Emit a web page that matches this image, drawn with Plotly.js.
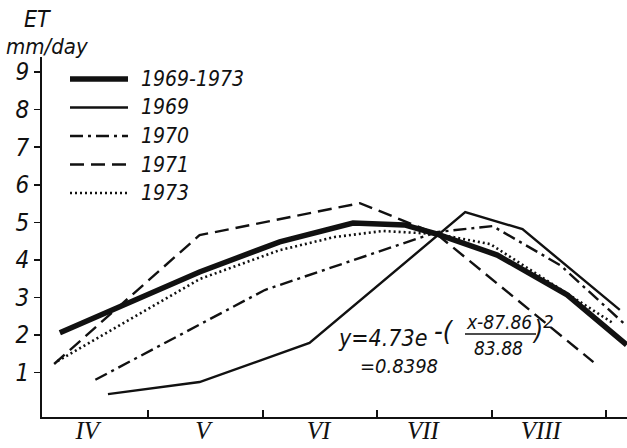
<!DOCTYPE html>
<html>
<head>
<meta charset="utf-8">
<script src="https://cdn.plot.ly/plotly-3.0.1.min.js"></script>
<style>
  html, body { margin: 0; padding: 0; background: #fff; }
  #chart { width: 627px; height: 448px; }
</style>
</head>
<body>
<div id="chart"></div>
<script>
// x is measured in months: 5.0 = 1 May, 6.0 = 1 June, ...
const monthLabels = ['IV', 'V', 'VI', 'VII', 'VIII'];
const monthLabelPos = [4.47, 5.48, 6.49, 7.40, 8.43];
const monthBounds = [5, 6, 7, 8, 9];

const meanX = [4.23, 5.45, 6.15, 6.79, 7.24, 7.52, 8.05, 8.66, 9.18];
const meanY = [2.06, 3.68, 4.48, 4.98, 4.93, 4.69, 4.13, 3.07, 1.74];

const et1969X = [4.65, 5.45, 6.41, 7.52, 7.77, 8.27, 9.12];
const et1969Y = [0.43, 0.75, 1.79, 4.64, 5.27, 4.82, 2.67];

const et1970X = [4.54, 6.02, 7.52, 8.01, 8.60, 9.17];
const et1970Y = [0.81, 3.20, 4.74, 4.90, 3.86, 2.27];

const et1971X = [4.18, 5.45, 6.85, 7.52, 8.89];
const et1971Y = [1.23, 4.66, 5.51, 4.69, 1.28];

const et1973X = [4.21, 5.45, 6.15, 6.63, 7.05, 7.52, 7.99, 9.06];
const et1973Y = [1.31, 3.49, 4.26, 4.61, 4.77, 4.69, 4.42, 2.32];

const seriesNames = ['1969-1973', '1969', '1970', '1971', '1973'];

const W = 627, H = 448, ML = 42, MR = 0, MT = 57, MB = 31;
const PW = W - ML - MR, PH = H - MT - MB;
const px = v => (v - ML) / PW;
const py = v => (H - MB - v) / PH;

const ink = '#111';
const fam = '"DejaVu Sans Condensed", "DejaVu Sans", sans-serif';
const it = (size) => ({family: fam, size: size, color: ink, style: 'italic'});

const lineStyles = [
  {color: ink, width: 5.5},
  {color: ink, width: 2.4},
  {color: ink, width: 2.4, dash: '13px,5px,3px,5px'},
  {color: ink, width: 2.4, dash: '14px,7px'},
  {color: ink, width: 2.6, dash: '2px,3px'}
];
const seriesX = [meanX, et1969X, et1970X, et1971X, et1973X];
const seriesY = [meanY, et1969Y, et1970Y, et1971Y, et1973Y];

const traces = seriesNames.map((n, i) => ({
  x: seriesX[i], y: seriesY[i], name: n, mode: 'lines',
  line: lineStyles[i], showlegend: false
}));

const annotations = [
  {text: 'ET', x: px(37), y: py(19), font: it(23)},
  {text: 'mm/day', x: px(47), y: py(46), font: it(22)},
  {text: 'y=4.73e', x: px(336), y: py(338), xanchor: 'left', font: it(23)},
  {text: '-(', x: px(432), y: py(330), xanchor: 'left', font: it(27)},
  {text: 'x-87.86', x: px(499), y: py(322), font: it(19)},
  {text: '83.88', x: px(498), y: py(348), font: it(19)},
  {text: ')<sup>2</sup>', x: px(530), y: py(328), xanchor: 'left', font: it(26)},
  {text: '=0.8398', x: px(358), y: py(366), xanchor: 'left', font: it(20)}
];

const shapes = [
  {type: 'line', xref: 'paper', yref: 'paper', x0: px(465), x1: px(536),
   y0: py(334), y1: py(334), line: {color: ink, width: 1.6}}
];

// hand-made legend (long line samples as in the original figure)
const legendRow0 = 79, legendRowGap = 28.5;
seriesNames.forEach((n, i) => {
  const yy = py(legendRow0 + i * legendRowGap);
  shapes.push({type: 'line', xref: 'paper', yref: 'paper',
    x0: px(70), x1: px(128), y0: yy, y1: yy, line: lineStyles[i]});
  annotations.push({text: n, x: px(139), y: yy, xanchor: 'left', font: it(21)});
});

const annots = annotations.map(a => Object.assign({xref: 'paper', yref: 'paper',
  showarrow: false, xanchor: 'center', yanchor: 'middle'}, a));

const layout = {
  width: W, height: H,
  margin: {l: ML, r: MR, t: MT, b: MB, pad: 0},
  paper_bgcolor: '#fff', plot_bgcolor: '#fff',
  showlegend: false,
  xaxis: {range: [4.074, 9.183], showgrid: false, zeroline: false,
          showline: true, linecolor: ink, linewidth: 2,
          tickmode: 'array', tickvals: monthLabelPos, ticktext: monthLabels,
          ticks: '', ticklabelstandoff: -10,
          tickfont: {family: '"Liberation Serif", serif', size: 25, color: ink, style: 'italic'},
          minor: {tickmode: 'array', tickvals: monthBounds, ticks: 'inside',
                  ticklen: 7, tickwidth: 2, tickcolor: ink, showgrid: false}},
  yaxis: {range: [-0.18, 9.4], showgrid: false, zeroline: false,
          showline: true, linecolor: ink, linewidth: 2,
          tickmode: 'array', tickvals: [1,2,3,4,5,6,7,8,9],
          ticks: 'outside', ticklen: 6, tickwidth: 1.6, tickcolor: ink,
          tickfont: it(24)},
  annotations: annots,
  shapes: shapes
};

Plotly.newPlot('chart', traces, layout, {staticPlot: true});
</script>
</body>
</html>
